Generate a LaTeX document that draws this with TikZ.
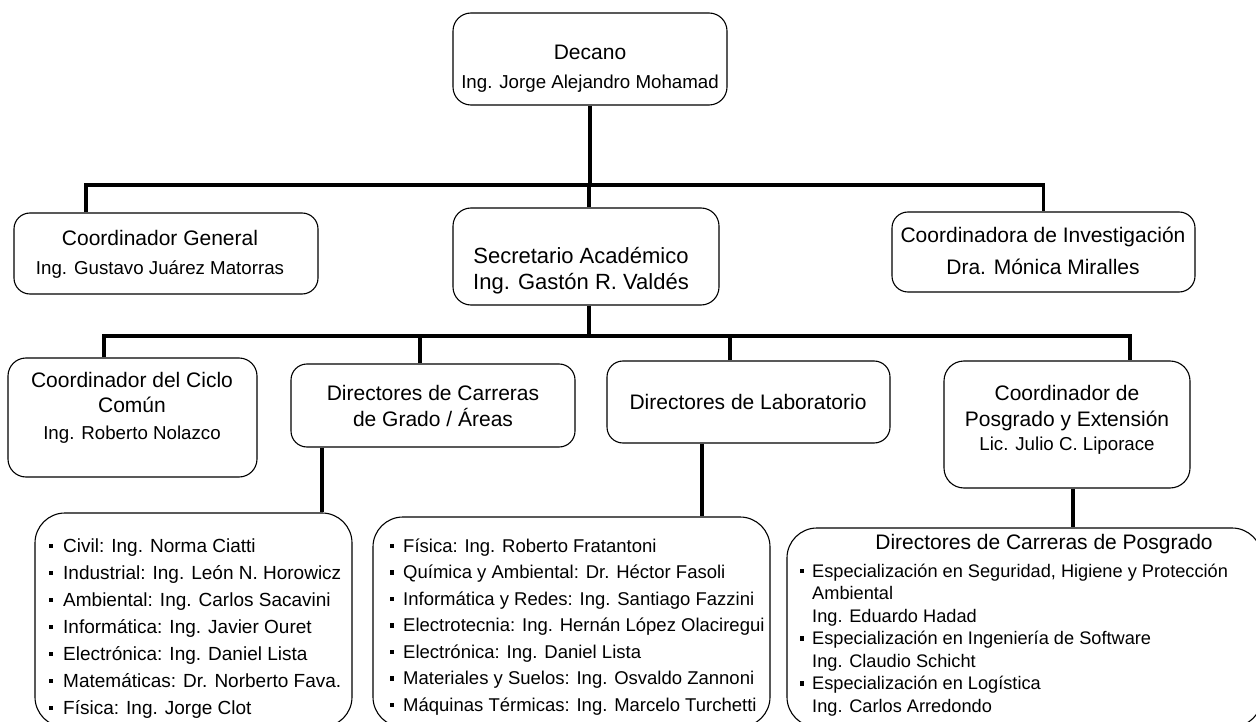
\documentclass[tikz,border=0pt]{standalone}
\usepackage{fontspec}
\setmainfont{Liberation Sans}
\usetikzlibrary{calc}
\tikzset{
  box/.style={draw, line width=1.1pt, inner sep=0pt},
  conn/.style={line width=3.8pt},
  ttl/.style={anchor=base, inner sep=0pt, font=\fontsize{21}{25}\selectfont},
  big/.style={anchor=base, inner sep=0pt, font=\fontsize{22}{26}\selectfont},
  nm/.style={anchor=base, inner sep=0pt, font=\fontsize{18.7}{22}\selectfont},
  itm/.style={anchor=base west, inner sep=0pt, font=\fontsize{19}{22}\selectfont},
  itc/.style={anchor=base west, inner sep=0pt, font=\fontsize{18.5}{22}\selectfont},
  itr/.style={anchor=base west, inner sep=0pt, font=\fontsize{18.2}{22}\selectfont},
  bul/.style={fill, minimum size=4.4pt, inner sep=0pt},
}
\begin{document}
\begin{tikzpicture}[x=1pt,y=-1pt]
\useasboundingbox (0,0) rectangle (1256,722);
\clip (0,0) rectangle (1256,722);
\fill[white] (0,0) rectangle (1256,722);
% boxes
\node[box, rounded corners=18pt, minimum width=274pt, minimum height=92pt] (dec) at (590,59) {};
\node[box, rounded corners=16pt, minimum width=304pt, minimum height=81pt] (cg) at (166,253.5) {};
\node[box, rounded corners=18pt, minimum width=266pt, minimum height=97pt] (sa) at (586,256.5) {};
\node[box, rounded corners=16pt, minimum width=303pt, minimum height=80pt] (ci) at (1043.5,252) {};
\node[box, rounded corners=18pt, minimum width=249pt, minimum height=119pt] (ciclo) at (132.5,417.5) {};
\node[box, rounded corners=16pt, minimum width=284pt, minimum height=83pt] (car) at (433,405.5) {};
\node[box, rounded corners=16pt, minimum width=283pt, minimum height=82pt] (lab) at (748.5,402) {};
\node[box, rounded corners=20pt, minimum width=246pt, minimum height=127pt] (pos) at (1067,424.5) {};
\node[box, rounded corners=30pt, minimum width=317pt, minimum height=214pt] (bl) at (193.5,620) {};
\node[box, rounded corners=30pt, minimum width=397pt, minimum height=210pt] (bm) at (571.5,622) {};
\node[box, rounded corners=30pt, minimum width=475pt, minimum height=199pt] (br) at (1024.5,627.5) {};
% bars
\coordinate (bar1) at (0,185);
\coordinate (bar2) at (0,336);
\draw[conn] (dec.south) -- (dec.south |- bar1);
\draw[conn] ([xshift=-80pt]cg.north) |- (ci.north |- bar1) -- (ci.north);
\draw[conn] ([xshift=3pt]sa.north) -- ([xshift=3pt]sa.north |- bar1);
\draw[conn] ([xshift=3pt]sa.south) -- ([xshift=3pt]sa.south |- bar2);
\draw[conn] ([xshift=-28.5pt]ciclo.north) |- ([xshift=63pt]pos.north |- bar2) -- ([xshift=63pt]pos.north);
\draw[conn] ([xshift=-13pt]car.north) -- ([xshift=-13pt]car.north |- bar2);
\draw[conn] ([xshift=-18.5pt]lab.north) -- ([xshift=-18.5pt]lab.north |- bar2);
\draw[conn] ([xshift=-111pt]car.south) -- ([xshift=-111pt]car.south |- bl.north);
\draw[conn] ([xshift=-46.5pt]lab.south) -- ([xshift=-46.5pt]lab.south |- bm.north);
\draw[conn] ([xshift=6pt]pos.south) -- ([xshift=6pt]pos.south |- br.north);
% texts
\node[ttl] (dec1) at (590,59.5) {Decano};
\node[nm] (dec2) at (590,89) {Ing. Jorge Alejandro Mohamad};
\node[ttl] (cg1) at (160,245.5) {Coordinador General};
\node[nm] (cg2) at (160,274) {Ing. Gustavo Juárez Matorras};
\node[big] (sa1) at (581,263) {Secretario Académico};
\node[big] (sa2) at (581,289) {Ing. Gastón R. Valdés};
\node[ttl] (ci1) at (1043,242.5) {Coordinadora de Investigación};
\node[ttl] (ci2) at (1043,274.5) {Dra. Mónica Miralles};
\node[ttl] (cc1) at (132,387.5) {Coordinador del Ciclo};
\node[ttl] (cc2) at (132,412.5) {Común};
\node[nm] (cc3) at (132,439) {Ing. Roberto Nolazco};
\node[ttl] (car1) at (433,400.5) {Directores de Carreras};
\node[ttl] (car2) at (433,426.5) {de Grado / Áreas};
\node[ttl] (lab1) at (748,409.5) {Directores de Laboratorio};
\node[ttl] (pos1) at (1067,400.5) {Coordinador de};
\node[ttl] (pos2) at (1067,426.5) {Posgrado y Extensión};
\node[nm] (pos3) at (1067,450) {Lic. Julio C. Liporace};
% bottom left list
\foreach \t [count=\i from 0] in {Civil: Ing. Norma Ciatti,
  Industrial: Ing. León N. Horowicz,
  Ambiental: Ing. Carlos Sacavini,
  Informática: Ing. Javier Ouret,
  Electrónica: Ing. Daniel Lista,
  Matemáticas: Dr. Norberto Fava.,
  Física: Ing. Jorge Clot}{
  \node[bul] (lb\i) at (51,{546+27*\i}) {};
  \node[itm] (lt\i) at (63,{552+27*\i}) {\t};
}
% bottom middle list
\foreach \t [count=\i from 0] in {Física: Ing. Roberto Fratantoni,
  Química y Ambiental: Dr. Héctor Fasoli,
  Informática y Redes: Ing. Santiago Fazzini,
  Electrotecnia: Ing. Hernán López Olaciregui,
  Electrónica: Ing. Daniel Lista,
  Materiales y Suelos: Ing. Osvaldo Zannoni,
  Máquinas Térmicas: Ing. Marcelo Turchetti}{
  \node[bul] (mb\i) at (392,{546+26.5*\i}) {};
  \node[itc] (mt\i) at (403,{552+26.5*\i}) {\t};
}
% bottom right
\node[ttl] (br0) at (1044,549.5) {Directores de Carreras de Posgrado};
\node[itr] (rt0) at (812,577) {Especialización en Seguridad, Higiene y Protección};
\node[itr] (rt1) at (812,599.5) {Ambiental};
\node[itr] (rt2) at (812,622) {Ing. Eduardo Hadad};
\node[itr] (rt3) at (812,644.5) {Especialización en Ingeniería de Software};
\node[itr] (rt4) at (812,667) {Ing. Claudio Schicht};
\node[itr] (rt5) at (812,689.5) {Especialización en Logística};
\node[itr] (rt6) at (812,712) {Ing. Carlos Arredondo};
\node[bul] (rb0) at (802,571) {};
\node[bul] (rb3) at (802,638.5) {};
\node[bul] (rb5) at (802,683.5) {};
\end{tikzpicture}
\end{document}
